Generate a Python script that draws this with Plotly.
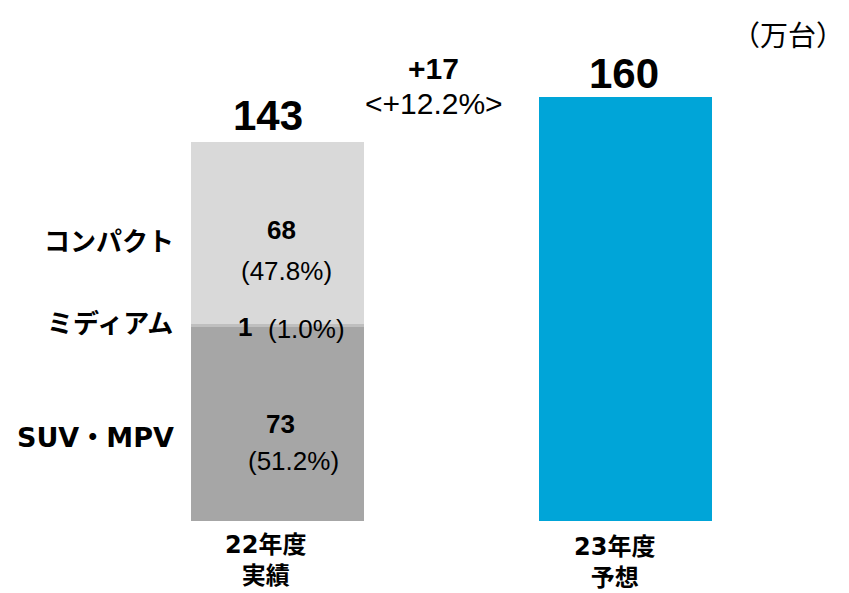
import plotly.graph_objects as go

# ---- data ----
categories = ["22年度<br>実績", "23年度<br>予想"]
segment_names = ["SUV・MPV", "ミディアム", "コンパクト"]
seg_values_22 = [73.2, 1.4, 68.4]          # stacked segments of FY22
seg_labels = ["73", "1", "68"]
seg_shares = ["(51.2%)", "(1.0%)", "(47.8%)"]
totals = [143, 160]
diff_label = "+17"
diff_pct = "<+12.2%>"
unit_label = "（万台）"

seg_colors = ["#a6a6a6", "#bfbfbf", "#d9d9d9"]
blue = "#00a5d8"

OFF = 8  # page body margin
W, H = 841, 585
L, R, T, B = 96, 50, 10, 72
XR = [-0.5, 1.5]
YR = [0, 190]
pw, ph = W - L - R, H - T - B

def pxp(px):
    return (px - OFF - L) / pw

def pyp(py):
    return (H - B - (py - OFF)) / ph

fig = go.Figure()
for name, val, col in zip(segment_names, seg_values_22, seg_colors):
    fig.add_trace(go.Bar(x=[0], y=[val], name=name, marker=dict(color=col, line=dict(width=0)),
                         width=0.497, hoverinfo="skip"))
fig.add_trace(go.Bar(x=[1], y=[totals[1]], name="23", marker=dict(color=blue, line=dict(width=0)),
                     width=0.497, hoverinfo="skip"))

NUM = "Liberation Sans, Arial, sans-serif"
JP = "DejaVu Sans, Noto Sans CJK JP, sans-serif"
ann = []

def add(text, px, py, size, font=NUM, bold=False, xanchor="center", color="#000000"):
    t = f"<b>{text}</b>" if bold else text
    ann.append(dict(text=t, x=pxp(px), y=pyp(py), xref="paper", yref="paper", showarrow=False,
                    xanchor=xanchor, yanchor="middle", font=dict(family=font, size=size, color=color)))

# totals
add(str(totals[0]), 268, 115, 42, bold=True)
add(str(totals[1]), 624, 74, 42, bold=True)
# difference
add(diff_label, 433, 68, 30, bold=True)
add(diff_pct, 434, 103, 30)
# segment labels inside bar
add(seg_labels[2], 281, 230, 26, bold=True)
add(seg_shares[2], 286, 271, 26)
add(seg_labels[1], 245, 327, 26, bold=True)
add(seg_shares[1], 306, 329, 26)
add(seg_labels[0], 280, 424, 26, bold=True)
add(seg_shares[0], 293, 461, 26)
# segment names on left
add(segment_names[2], 176, 242, 26, font=JP, bold=True, xanchor="right")
add(segment_names[1], 175, 324, 26, font=JP, bold=True, xanchor="right")
add(segment_names[0], 176, 437, 27, font=JP, bold=True, xanchor="right")
# category labels
add(categories[0], 265, 560, 24, font=JP, bold=True)
add(categories[1], 614, 562, 24, font=JP, bold=True)
# unit
add(unit_label, 846, 36, 28, font=JP, xanchor="right")

fig.update_layout(
    barmode="stack", width=W, height=H, showlegend=False,
    margin=dict(l=L, r=R, t=T, b=B, pad=0),
    paper_bgcolor="white", plot_bgcolor="white",
    xaxis=dict(range=XR, visible=False, fixedrange=True),
    yaxis=dict(range=YR, visible=False, fixedrange=True),
    annotations=ann, bargap=0,
)
fig.write_html("out.html")
